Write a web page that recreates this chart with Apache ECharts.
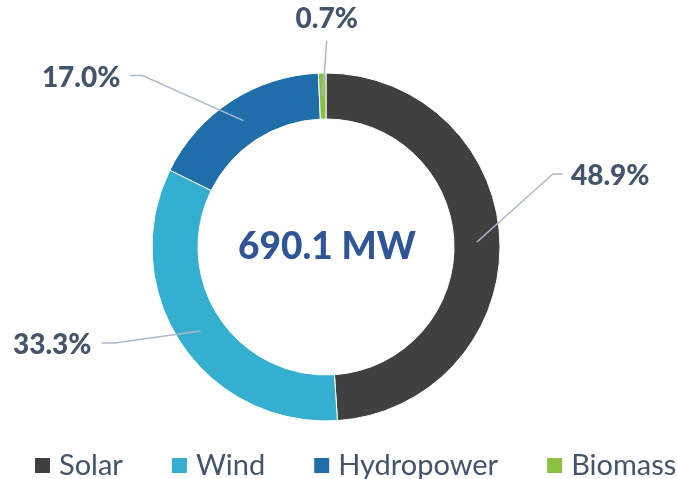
<!DOCTYPE html>
<html>
<head>
<meta charset="utf-8">
<script src="https://cdn.jsdelivr.net/npm/echarts@6/dist/echarts.min.js"></script>
<style>
  html, body { margin: 0; padding: 0; background: #fff; }
  #chart { width: 677px; height: 479px; }
</style>
</head>
<body>
<div id="chart"></div>
<script>
const sources = ['Solar', 'Wind', 'Hydropower', 'Biomass'];
const shares = [48.9, 33.3, 17.0, 0.7];
const totalLabel = '690.1 MW';

const colors = ['#404040', '#35AFCF', '#1F6EA9', '#8BC043'];
// label line shape: offset of the bend from the line start, then horizontal tail
const lineBend = [[76, -68], [-86, 12], [-101, -45], [4, -55]];
const lineTail = [10, -13, -12, 0];

const chart = echarts.init(document.getElementById('chart'), null, { renderer: 'canvas' });

const data = sources.map((name, i) => ({
  name,
  value: shares[i],
  itemStyle: { color: colors[i] },
}));

const option = {
  backgroundColor: '#fff',
  animation: false,
  legend: {
    data: sources,
    left: 33,
    top: 451,
    padding: 0,
    icon: 'rect',
    itemWidth: 17,
    itemHeight: 17,
    itemGap: 47,
    textStyle: {
      fontFamily: 'Lato',
      fontSize: 29,
      lineHeight: 28,
      color: '#44546A',
      padding: [0, 0, 0, 3],
    },
  },
  graphic: [
    {
      type: 'text',
      x: 327,
      y: 247,
      style: {
        text: totalLabel,
        fontFamily: 'Lato',
        fontWeight: 900,
        fontSize: 37,
        fill: '#2F5597',
        textAlign: 'center',
        textVerticalAlign: 'middle',
      },
    },
  ],
  series: [
    {
      // the visible ring
      name: 'ring',
      type: 'pie',
      z: 2,
      center: [326, 247],
      radius: [128, 174],
      startAngle: 90,
      silent: true,
      label: { show: false },
      labelLine: { show: false },
      itemStyle: { borderColor: '#fff', borderWidth: 1 },
      emphasis: { disabled: true },
      data,
    },
    {
      // transparent carrier so the label lines start mid-ring
      name: 'labels',
      type: 'pie',
      z: 4,
      center: [326, 247],
      radius: [128, 151],
      startAngle: 90,
      silent: true,
      avoidLabelOverlap: false,
      itemStyle: { color: 'rgba(0,0,0,0)' },
      emphasis: { disabled: true },
      label: {
        show: true,
        formatter: (p) => p.value.toFixed(1) + '%',
        fontFamily: 'Lato',
        fontWeight: 900,
        fontSize: 28,
        color: '#44546A',
      },
      labelLine: {
        show: true,
        length: 10,
        length2: 10,
        lineStyle: { color: '#ADB9CA', width: 1.5 },
      },
      labelLayout: function (p) {
        const pts = p.labelLinePoints;
        if (!pts) return {};
        const i = p.dataIndex;
        const s = [pts[0][0], pts[0][1]];
        const b = [s[0] + lineBend[i][0], s[1] + lineBend[i][1]];
        const e = [b[0] + lineTail[i], b[1]];
        if (lineTail[i] === 0) {
          return {
            x: e[0], y: e[1] - 8,
            align: 'center', verticalAlign: 'bottom',
            labelLinePoints: [s, b, e],
          };
        }
        const right = lineTail[i] > 0;
        return {
          x: e[0] + (right ? 8 : -10),
          y: e[1] + 2,
          align: right ? 'left' : 'right',
          verticalAlign: 'middle',
          labelLinePoints: [s, b, e],
        };
      },
      data: sources.map((name, i) => ({ name, value: shares[i] })),
    },
  ],
};

chart.setOption(option);
</script>
</body>
</html>
